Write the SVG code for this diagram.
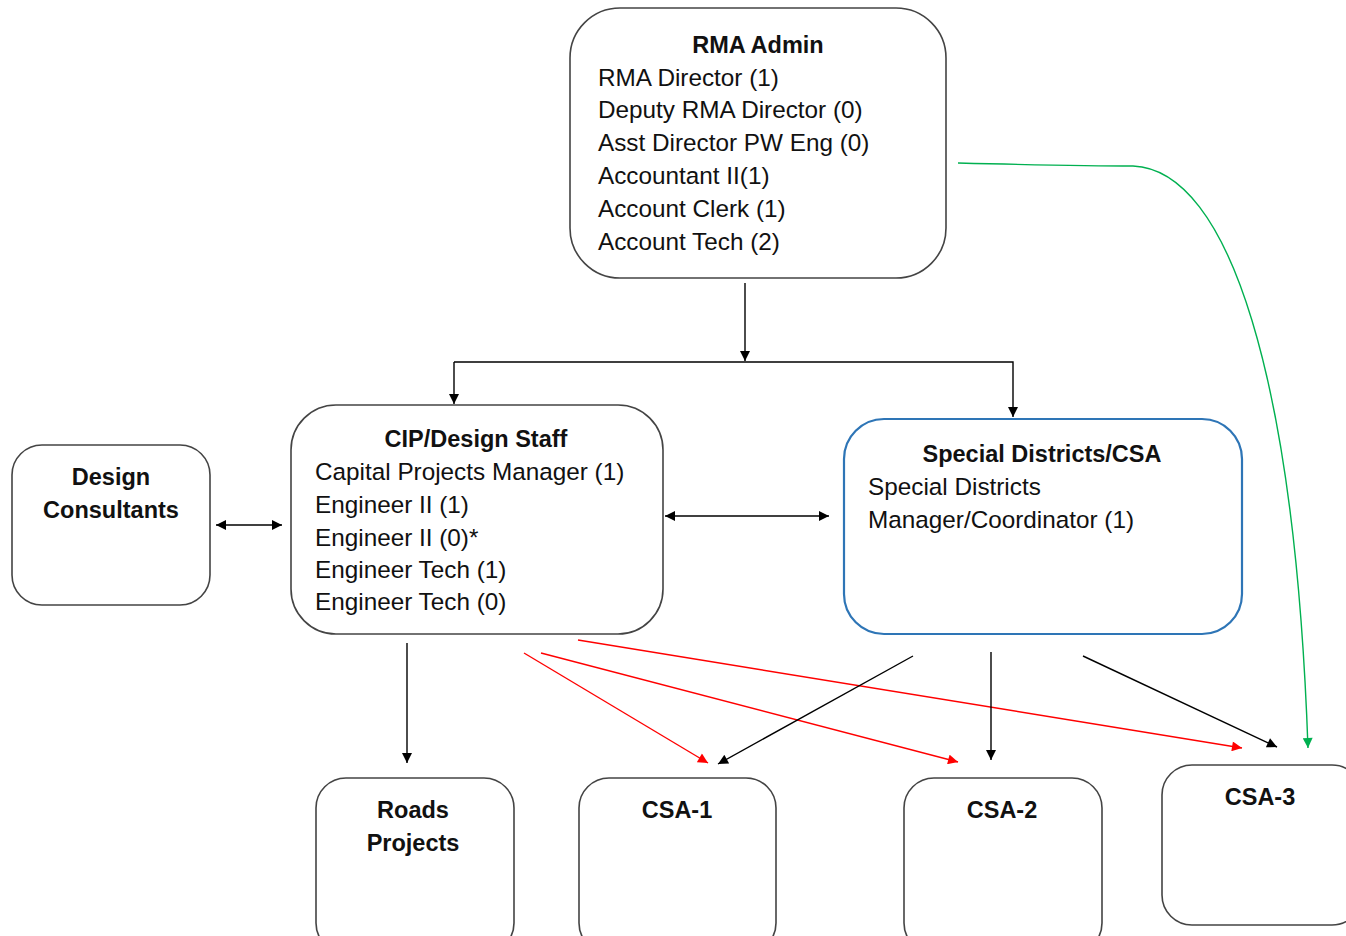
<svg xmlns="http://www.w3.org/2000/svg" width="1346" height="936" viewBox="0 0 1346 936">
<style>
.box{fill:#fff;stroke:#444;stroke-width:1.6}
.blue{fill:#fff;stroke:#2e75b6;stroke-width:2.2}
.t{font-family:"Liberation Sans",Arial,sans-serif;font-size:24.3px;fill:#111}
.b{font-family:"Liberation Sans",Arial,sans-serif;font-size:23.5px;font-weight:bold;fill:#111;text-anchor:middle}
.k{fill:none;stroke:#000;stroke-width:1.4}
.r{fill:none;stroke:#f00;stroke-width:1.4}
.g{fill:none;stroke:#00b050;stroke-width:1.4}
</style>
<defs>
<marker id="ak" viewBox="0 0 10 10" refX="10" refY="5" markerWidth="11" markerHeight="10" markerUnits="userSpaceOnUse" orient="auto-start-reverse"><path d="M0,0 L10,5 L0,10 z" fill="#000"/></marker>
<marker id="ar" viewBox="0 0 10 10" refX="10" refY="5" markerWidth="11" markerHeight="10" markerUnits="userSpaceOnUse" orient="auto"><path d="M0,0 L10,5 L0,10 z" fill="#f00"/></marker>
<marker id="ag" viewBox="0 0 10 10" refX="10" refY="5" markerWidth="11" markerHeight="10" markerUnits="userSpaceOnUse" orient="auto"><path d="M0,0 L10,5 L0,10 z" fill="#00b050"/></marker>
</defs>
<rect width="1346" height="936" fill="#fff"/>
<g id="rma">
<rect class="box" x="570" y="8" width="376" height="270" rx="50"/>
<text class="b" x="758" y="53">RMA Admin</text>
<text class="t" x="598" y="86">RMA Director (1)</text>
<text class="t" x="598" y="118">Deputy RMA Director (0)</text>
<text class="t" x="598" y="151">Asst Director PW Eng (0)</text>
<text class="t" x="598" y="184">Accountant II(1)</text>
<text class="t" x="598" y="217">Account Clerk (1)</text>
<text class="t" x="598" y="250">Account Tech (2)</text>
</g>
<g id="cip">
<rect class="box" x="291" y="405" width="372" height="229" rx="45"/>
<text class="b" x="476" y="447">CIP/Design Staff</text>
<text class="t" x="315" y="480">Capital Projects Manager (1)</text>
<text class="t" x="315" y="513">Engineer II (1)</text>
<text class="t" x="315" y="546">Engineer II (0)*</text>
<text class="t" x="315" y="578">Engineer Tech (1)</text>
<text class="t" x="315" y="610">Engineer Tech (0)</text>
</g>
<g id="consultants">
<rect class="box" x="12" y="445" width="198" height="160" rx="30"/>
<text class="b" x="111" y="485">Design</text>
<text class="b" x="111" y="518">Consultants</text>
</g>
<g id="special">
<rect class="blue" x="844" y="419" width="398" height="215" rx="40"/>
<text class="b" x="1042" y="462">Special Districts/CSA</text>
<text class="t" x="868" y="495">Special Districts</text>
<text class="t" x="868" y="528">Manager/Coordinator (1)</text>
</g>
<g id="roads">
<rect class="box" x="316" y="778" width="198" height="175" rx="30"/>
<text class="b" x="413" y="818">Roads</text>
<text class="b" x="413" y="851">Projects</text>
</g>
<g id="csa1">
<rect class="box" x="579" y="778" width="197" height="175" rx="30"/>
<text class="b" x="677" y="818">CSA-1</text>
</g>
<g id="csa2">
<rect class="box" x="904" y="778" width="198" height="175" rx="30"/>
<text class="b" x="1002" y="818">CSA-2</text>
</g>
<g id="csa3">
<rect class="box" x="1162" y="765" width="200" height="160" rx="30"/>
<text class="b" x="1260" y="805">CSA-3</text>
</g>
<g id="connectors">
<path class="k" d="M745,283 V361" marker-end="url(#ak)"/>
<path class="k" d="M454,362 H1013 V417" marker-end="url(#ak)"/>
<path class="k" d="M454,362 V404" marker-end="url(#ak)"/>
<path class="k" d="M216,525 H282" marker-start="url(#ak)" marker-end="url(#ak)"/>
<path class="k" d="M665,516 H829" marker-start="url(#ak)" marker-end="url(#ak)"/>
<path class="k" d="M407,643 V763" marker-end="url(#ak)"/>
<path class="r" d="M524,653 L708,763" marker-end="url(#ar)"/>
<path class="r" d="M541,653 L958,762" marker-end="url(#ar)"/>
<path class="r" d="M578,640 L1242,748" marker-end="url(#ar)"/>
<path class="k" d="M913,656 L718,764" marker-end="url(#ak)"/>
<path class="k" d="M991,652 V760" marker-end="url(#ak)"/>
<path class="k" d="M1083,656 L1277,747" marker-end="url(#ak)"/>
<path class="g" d="M958,163 C1040,165 1090,166 1133,166 C1230,170 1295,380 1308,748" marker-end="url(#ag)"/>
</g>
</svg>
